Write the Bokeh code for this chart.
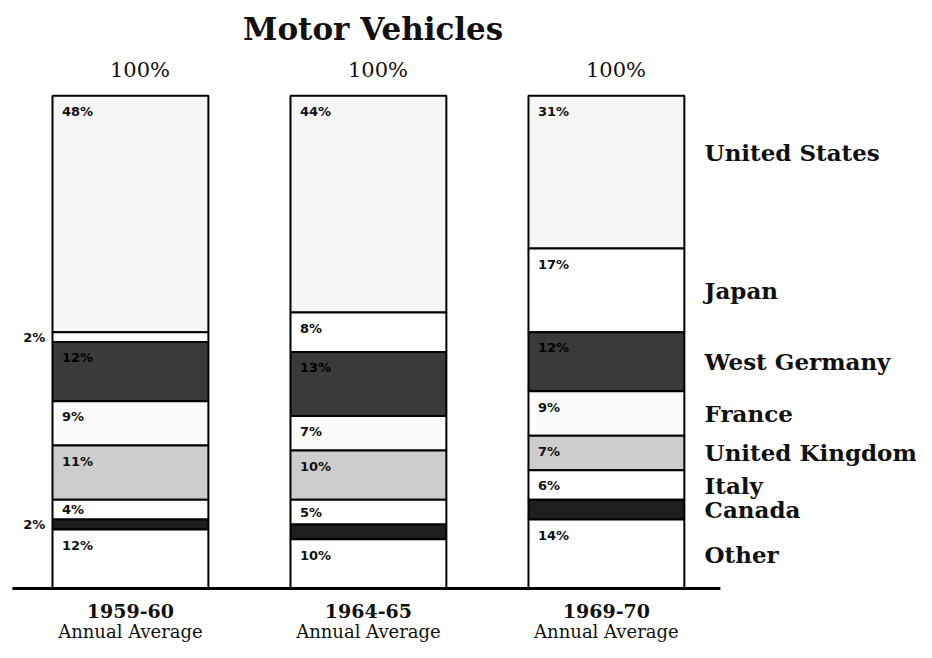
from bokeh.plotting import figure
from bokeh.models import Range1d
from bokeh.core.properties import value
from bokeh.embed import file_html
from bokeh.resources import INLINE

# ---- data ----
title = "Motor Vehicles"
periods = ["1959-60", "1964-65", "1969-70"]
subtitle = "Annual Average"
totals = ["100%", "100%", "100%"]
countries = ["United States", "Japan", "West Germany", "France",
             "United Kingdom", "Italy", "Canada", "Other"]
united_states = [48, 44, 31]
japan = [2, 8, 17]
west_germany = [12, 13, 12]
france = [9, 7, 9]
united_kingdom = [11, 10, 7]
italy = [4, 5, 6]
canada = [2, 3, 4]
other = [12, 10, 14]
shares = [united_states, japan, west_germany, france,
          united_kingdom, italy, canada, other]

# ---- styles ----
fills = ["#f6f6f6", "#ffffff", "#3a3a3a", "#fbfbfb",
         "#cdcdcd", "#ffffff", "#1e1e1e", "#ffffff"]
label_cols = ["#111111", "#111111", "#000000", "#111111",
              "#111111", "#111111", "#000000", "#111111"]
# labels shown outside (left of bar) for thin slices, or hidden (unreadable)
outside = {(1, 0), (6, 0)}
hidden = {(6, 1), (6, 2)}

xs = [0, 1, 2]
W = 0.655

p = figure(width=916, height=642, output_backend="svg", toolbar_location=None,
           x_range=Range1d(-0.546, 3.303), y_range=Range1d(-10.95, 119.3),
           min_border=0)
p.xaxis.visible = False
p.yaxis.visible = False
p.xgrid.visible = False
p.ygrid.visible = False
p.outline_line_color = None
p.background_fill_color = "white"

serif = value("DejaVu Serif")
sans = value("DejaVu Sans")

# stack from the top (United States) downward
for j, x in enumerate(xs):
    top = 100.0
    for i, c in enumerate(countries):
        v = shares[i][j]
        bottom = top - v
        p.quad(left=[x - W / 2], right=[x + W / 2], bottom=[bottom], top=[top],
               fill_color=fills[i], line_color="black", line_width=2)
        if (i, j) not in hidden:
            if (i, j) in outside:
                p.text(x=[x - W / 2 - 0.03], y=[(top + bottom) / 2], text=[f"{v}%"],
                       text_font=sans, text_font_style="bold", text_font_size="13px",
                       text_align="right", text_baseline="middle", text_color="#111111")
            else:
                p.text(x=[x - W / 2 + 0.04], y=[top - min(3.2, v / 2)], text=[f"{v}%"],
                       text_font=sans, text_font_style="bold", text_font_size="13px",
                       text_align="left", text_baseline="middle", text_color=label_cols[i])
        # country labels to the right of the last bar
        if j == len(xs) - 1:
            ly = (top + bottom) / 2 + (4 if i == 0 else 0)
            p.text(x=[x + W / 2 + 0.085], y=[ly], text=[c], text_font=serif,
                   text_font_style="bold", text_font_size="23px",
                   text_align="left", text_baseline="middle", text_color="#111111")
        top = bottom

# baseline
p.segment(x0=[xs[0] - 0.496], x1=[xs[-1] + 0.479], y0=[0], y1=[0],
          line_color="black", line_width=3)

# totals above bars
p.text(x=[x + 0.04 for x in xs], y=[105.1] * len(xs), text=totals, text_font=serif,
       text_font_size="21px", text_align="center", text_baseline="middle",
       text_color="#111111")

# period labels
p.text(x=xs, y=[-4.5] * len(xs), text=periods, text_font=serif, text_font_style="bold",
       text_font_size="19px", text_align="center", text_baseline="middle",
       text_color="#111111")
p.text(x=xs, y=[-8.8] * len(xs), text=[subtitle] * len(xs), text_font=serif,
       text_font_size="18px", text_align="center", text_baseline="middle",
       text_color="#111111")

# title
p.text(x=[sum(xs) / len(xs) + 0.02], y=[113.6], text=[title], text_font=serif,
       text_font_style="bold", text_font_size="31px", text_align="center",
       text_baseline="middle", text_color="#111111")

open("out.html", "w").write(file_html(p, INLINE))
